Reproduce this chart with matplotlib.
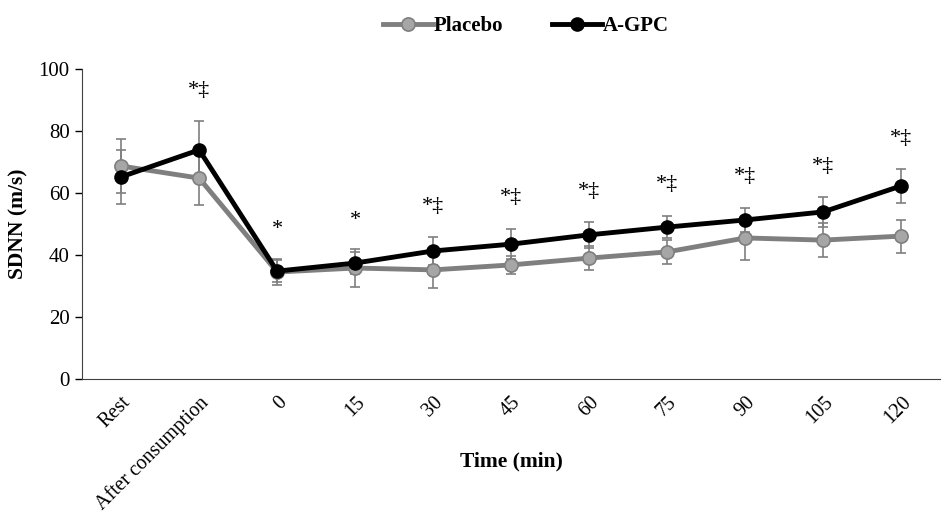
import numpy as np
import matplotlib
matplotlib.use('Agg')
import matplotlib.pyplot as plt

plt.rcParams['font.family'] = ['Liberation Serif', 'DejaVu Serif']

# -- Data
categories = ['Rest', 'After consumption', '0', '15', '30', '45', '60', '75', '90', '105', '120']
placebo = [68.7, 64.8, 34.5, 35.8, 35.2, 36.8, 39.0, 41.0, 45.5, 44.8, 46.1]
placebo_err = [8.7, 8.7, 4.2, 6.1, 5.8, 2.8, 3.8, 3.9, 7.1, 5.6, 5.3]
agpc = [65.2, 73.9, 34.8, 37.4, 41.3, 43.5, 46.5, 49.0, 51.3, 53.9, 62.3]
agpc_err = [8.8, 9.3, 3.5, 3.6, 4.5, 4.9, 4.1, 3.6, 3.9, 4.8, 5.4]
marks = ['', '*\u2021', '*', '*', '*\u2021', '*\u2021', '*\u2021', '*\u2021', '*\u2021', '*\u2021', '*\u2021']

x = np.arange(len(categories))

fig = plt.figure(figsize=(9.44, 5.16), dpi=100)
ax = fig.add_axes([0.087, 0.2655, 0.909, 0.6008])

# -- Error bars first so lines sit on top
ax.errorbar(x, placebo, yerr=placebo_err, fmt='none', ecolor='#7f7f7f',
            elinewidth=1.2, capsize=3.6, capthick=1.2, zorder=2)
ax.errorbar(x, agpc, yerr=agpc_err, fmt='none', ecolor='#7f7f7f',
            elinewidth=1.2, capsize=3.6, capthick=1.2, zorder=2)

ax.plot(x, placebo, color='#7f7f7f', lw=3.5, marker='o', markersize=9.5,
        markerfacecolor='#a6a6a6', markeredgecolor='#7f7f7f', markeredgewidth=1.2,
        label='Placebo', zorder=3)
ax.plot(x, agpc, color='black', lw=3.5, marker='o', markersize=9.5,
        markerfacecolor='black', markeredgecolor='black',
        label='A-GPC', zorder=4)

# -- Significance marks above the upper error bar
for xi, m, a, e in zip(x, marks, agpc, agpc_err):
    if m:
        ax.text(xi, a + e + 10, m, ha='center', va='center', fontsize=16)

ax.set_xlim(-0.5, len(categories) - 0.5)
ax.set_ylim(0, 100)
ax.set_yticks(np.arange(0, 101, 20))
ax.set_xticks(x)
ax.set_xticklabels(categories, rotation=45, ha='right', rotation_mode='anchor', fontsize=14.5)
ax.tick_params(axis='x', length=0, pad=10)
ax.tick_params(axis='y', labelsize=15, length=5, direction='out', width=1, pad=4)

ax.spines['top'].set_visible(False)
ax.spines['right'].set_visible(False)
ax.spines['left'].set_color('#404040')
ax.spines['bottom'].set_color('#404040')

ax.set_ylabel('SDNN (m/s)', fontsize=15.5, fontweight='bold')
ax.yaxis.set_label_coords(-0.062, 0.5)
ax.set_xlabel('Time (min)', fontsize=15.5, fontweight='bold')
ax.xaxis.set_label_coords(0.5, -0.235)

fig.legend(loc='upper center', bbox_to_anchor=(0.557, 1.005), ncol=2, frameon=False,
           prop={'weight': 'bold', 'size': 15}, handlelength=2.4, columnspacing=2.3,
           handletextpad=0.05)

plt.savefig('out.png', dpi=100)
plt.close()
